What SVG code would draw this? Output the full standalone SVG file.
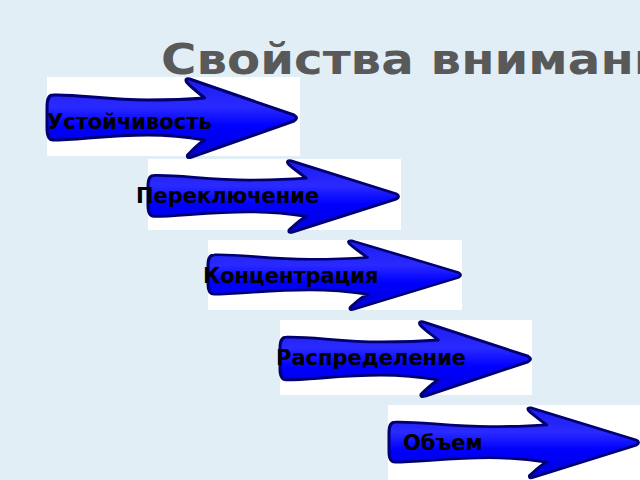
<svg xmlns="http://www.w3.org/2000/svg" width="640" height="480" viewBox="0 0 640 480">
  <defs>
    <linearGradient id="blueFill" x1="0" y1="0" x2="0" y2="1">
      <stop offset="0" stop-color="#1c1cf0"/>
      <stop offset="0.35" stop-color="#2a2aff"/>
      <stop offset="0.6" stop-color="#0000ff"/>
      <stop offset="1" stop-color="#0000d8"/>
    </linearGradient>
    <path id="arrowShape" d="M 6,17 C 30,16 60,22 100,22 C 125,22 145,21 157,20 C 150,14 142,8 139,4 Q 137,0 142,1 L 246,37 Q 251,40 246,43 L 144,79 Q 139,81 140,77 C 145,72 150,66 157,62 C 140,59 120,57 100,57 C 60,57 30,62 6,62 C 1,62 0,57 0,50 L 0,30 C 0,22 1,17 6,17 Z"/>
  </defs>
  <style>
    .bg { fill: #e2eef5; }
    .panel { fill: #ffffff; }
    .arrow { fill: url(#blueFill); stroke: #000070; stroke-width: 3; stroke-linejoin: round; }
    .label { font-family: "DejaVu Sans", "Noto Sans", sans-serif; font-weight: bold; font-size: 21px; fill: #000000; }
    .title { font-family: "DejaVu Sans", "Noto Sans", sans-serif; font-weight: bold; font-size: 42px; fill: #595959; }
  </style>
  <rect class="bg" x="0" y="0" width="640" height="480"/>
  <text id="title" class="title" transform="translate(161,74) scale(1.15,1)" x="0" y="0">Свойства внимания</text>

  <g id="node-ustoichivost">
    <rect class="panel" x="47" y="77" width="253" height="79"/>
    <use href="#arrowShape" class="arrow" transform="translate(47,78) scale(1.004,1)"/>
    <text class="label" x="47" y="129">Устойчивость</text>
  </g>

  <g id="node-pereklyuchenie">
    <rect class="panel" x="148" y="159" width="253" height="71"/>
    <use href="#arrowShape" class="arrow" transform="translate(148,160) scale(1.008,0.91)"/>
    <text class="label" x="136" y="203">Переключение</text>
  </g>

  <g id="node-koncentraciya">
    <rect class="panel" x="208" y="240" width="254" height="70"/>
    <use href="#arrowShape" class="arrow" transform="translate(208,240) scale(1.016,0.875)"/>
    <text class="label" x="203" y="283">Концентрация</text>
  </g>

  <g id="node-raspredelenie">
    <rect class="panel" x="280" y="320" width="252" height="75"/>
    <use href="#arrowShape" class="arrow" transform="translate(280,321) scale(1.008,0.95)"/>
    <text class="label" x="276" y="365">Распределение</text>
  </g>

  <g id="node-obem">
    <rect class="panel" x="388" y="405" width="252" height="75"/>
    <use href="#arrowShape" class="arrow" transform="translate(389,407) scale(1.004,0.89)"/>
    <text class="label" x="403" y="450">Объем</text>
  </g>
</svg>
